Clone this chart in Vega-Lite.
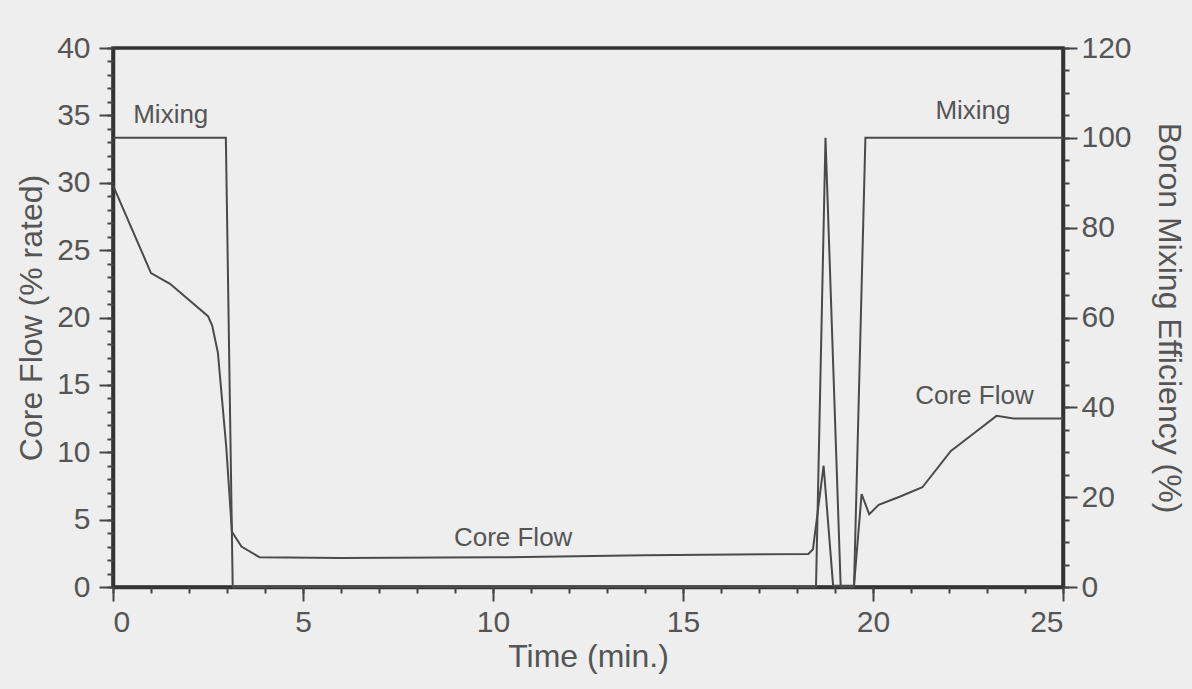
{
  "$schema": "https://vega.github.io/schema/vega-lite/v6.json",
  "width": 950,
  "height": 539,
  "autosize": {"type": "none"},
  "padding": {"left": 113, "top": 48, "right": 129, "bottom": 102},
  "background": "#eeeeee",
  "config": {
    "font": "Liberation Sans",
    "view": {"stroke": "#333333", "strokeWidth": 3.5},
    "axis": {
      "grid": false,
      "domainColor": "#333333",
      "domainWidth": 3.5,
      "tickColor": "#444444",
      "tickWidth": 2,
      "labelColor": "#555555",
      "titleColor": "#555555",
      "labelFont": "Liberation Sans",
      "titleFont": "Liberation Sans",
      "labelFontSize": 30,
      "titleFontSize": 32,
      "titleFontWeight": "normal"
    }
  },
  "datasets": {
    "coreflow": [
      {"time": 0, "flow": 29.8},
      {"time": 1.0, "flow": 23.3},
      {"time": 1.5, "flow": 22.5},
      {"time": 2.5, "flow": 20.1},
      {"time": 2.61, "flow": 19.4},
      {"time": 2.76, "flow": 17.4},
      {"time": 2.98, "flow": 10.4},
      {"time": 3.13, "flow": 4.1},
      {"time": 3.38, "flow": 3.0},
      {"time": 3.86, "flow": 2.2},
      {"time": 6, "flow": 2.15},
      {"time": 10, "flow": 2.2},
      {"time": 14, "flow": 2.35},
      {"time": 18.3, "flow": 2.45},
      {"time": 18.42, "flow": 2.8},
      {"time": 18.7, "flow": 9.0},
      {"time": 18.95, "flow": 0.1},
      {"time": 19.5, "flow": 0.1},
      {"time": 19.7, "flow": 6.9},
      {"time": 19.9, "flow": 5.4},
      {"time": 20.15, "flow": 6.1},
      {"time": 20.7, "flow": 6.7},
      {"time": 21.3, "flow": 7.4},
      {"time": 22.05, "flow": 10.1},
      {"time": 22.7, "flow": 11.5},
      {"time": 23.25, "flow": 12.7},
      {"time": 23.7, "flow": 12.5},
      {"time": 25, "flow": 12.5}
    ],
    "mixing": [
      {"time": 0, "eff": 100},
      {"time": 2.97, "eff": 100},
      {"time": 3.15, "eff": 0},
      {"time": 18.5, "eff": 0},
      {"time": 18.75, "eff": 100},
      {"time": 19.15, "eff": 0},
      {"time": 19.5, "eff": 0},
      {"time": 19.8, "eff": 100},
      {"time": 25, "eff": 100}
    ],
    "flowlabels": [
      {"time": 10.53, "flow": 3.6, "text": "Core Flow"},
      {"time": 22.67, "flow": 14.2, "text": "Core Flow"}
    ],
    "mixlabels": [
      {"time": 1.52, "eff": 105, "text": "Mixing"},
      {"time": 22.63, "eff": 105.9, "text": "Mixing"}
    ]
  },
  "layer": [
    {
      "layer": [
        {
          "data": {"name": "coreflow"},
          "mark": {"type": "line", "color": "#4a4a4a", "strokeWidth": 2},
          "encoding": {
            "x": {
              "field": "time", "type": "quantitative",
              "scale": {"domain": [0, 25], "nice": false},
              "axis": {
                "title": "Time (min.)",
                "orient": "bottom",
                "values": [0, 5, 10, 15, 20, 25],
                "tickSize": 14,
                "labelPadding": 6,
                "titlePadding": 4
              }
            },
            "y": {
              "field": "flow", "type": "quantitative",
              "scale": {"domain": [0, 40], "nice": false},
              "axis": {
                "title": "Core Flow (% rated)",
                "orient": "left",
                "values": [0, 5, 10, 15, 20, 25, 30, 35, 40],
                "tickSize": 14,
                "labelPadding": 9,
                "titlePadding": 8
              }
            }
          }
        },
        {
          "data": {"name": "flowlabels"},
          "mark": {"type": "text", "fontSize": 26, "color": "#555555", "align": "center", "baseline": "middle"},
          "encoding": {
            "x": {"field": "time", "type": "quantitative", "axis": {"title": "Time (min.)", "orient": "bottom"}},
            "y": {
              "field": "flow", "type": "quantitative",
              "axis": {
                "title": null,
                "orient": "left",
                "values": [0,1,2,3,4,5,6,7,8,9,10,11,12,13,14,15,16,17,18,19,20,21,22,23,24,25,26,27,28,29,30,31,32,33,34,35,36,37,38,39,40],
                "labels": false,
                "domain": false,
                "tickSize": 6
              }
            },
            "text": {"field": "text"}
          }
        }
      ],
      "resolve": {"axis": {"y": "independent"}}
    },
    {
      "layer": [
        {
          "data": {"name": "mixing"},
          "mark": {"type": "line", "color": "#4a4a4a", "strokeWidth": 2},
          "encoding": {
            "x": {
              "field": "time", "type": "quantitative",
              "axis": {
                "title": null,
                "orient": "bottom",
                "values": [0,1,2,3,4,5,6,7,8,9,10,11,12,13,14,15,16,17,18,19,20,21,22,23,24,25],
                "labels": false,
                "domain": false,
                "tickSize": 6
              }
            },
            "y": {
              "field": "eff", "type": "quantitative",
              "scale": {"domain": [0, 120], "nice": false},
              "axis": {
                "title": "Boron Mixing Efficiency (%)",
                "orient": "right",
                "values": [0, 20, 40, 60, 80, 100, 120],
                "tickSize": 14,
                "labelPadding": 4,
                "titlePadding": 20
              }
            }
          }
        },
        {
          "data": {"name": "mixlabels"},
          "mark": {"type": "text", "fontSize": 26, "color": "#555555", "align": "center", "baseline": "middle"},
          "encoding": {
            "x": {
              "field": "time", "type": "quantitative",
              "axis": {
                "title": null,
                "orient": "bottom",
                "values": [0,1,2,3,4,5,6,7,8,9,10,11,12,13,14,15,16,17,18,19,20,21,22,23,24,25],
                "labels": false,
                "domain": false,
                "tickSize": 6
              }
            },
            "y": {
              "field": "eff", "type": "quantitative",
              "axis": {
                "title": null,
                "orient": "right",
                "values": [0,5,10,15,20,25,30,35,40,45,50,55,60,65,70,75,80,85,90,95,100,105,110,115,120],
                "labels": false,
                "domain": false,
                "tickSize": 6
              }
            },
            "text": {"field": "text"}
          }
        }
      ],
      "resolve": {"axis": {"y": "independent"}}
    }
  ],
  "resolve": {"scale": {"y": "independent"}, "axis": {"x": "independent"}}
}
